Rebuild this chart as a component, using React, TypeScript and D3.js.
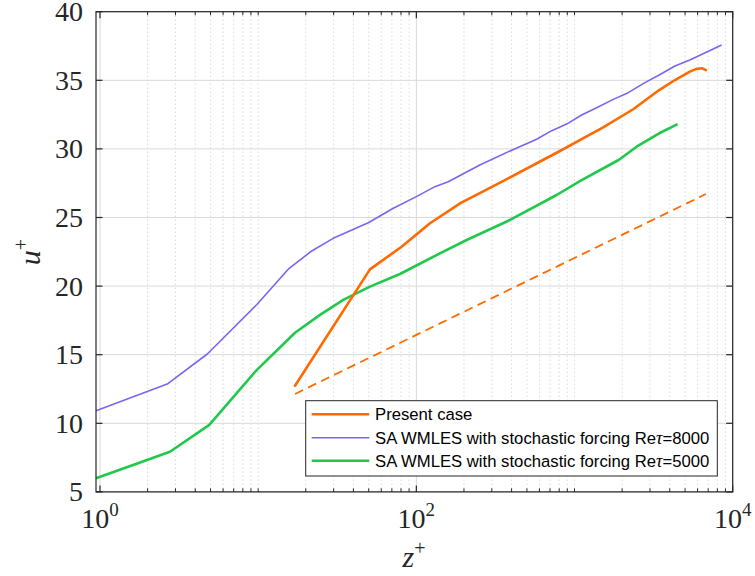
import React from 'react';
import * as d3 from 'd3';

const presentZ = [17.1, 50.9, 80.7, 122, 190, 363, 771, 1031, 1518, 2350, 3430, 4313, 5360, 5900, 6400, 6770];
const presentU = [12.74, 21.22, 22.87, 24.58, 26.05, 27.73, 29.72, 30.52, 31.57, 32.89, 34.29, 35.02, 35.63, 35.83, 35.88, 35.74];

const re8000Z = [0.944, 2.66, 4.77, 9.78, 15.7, 21.8, 29.8, 49.7, 71.5, 100, 131, 159, 252, 391, 576, 717, 891, 1109, 1380, 1757, 2185, 2786, 3430, 4313, 5360, 8510];
const re8000U = [10.92, 12.86, 15.05, 18.64, 21.3, 22.56, 23.48, 24.62, 25.67, 26.52, 27.25, 27.6, 28.83, 29.85, 30.7, 31.33, 31.81, 32.47, 33.0, 33.61, 34.1, 34.83, 35.39, 36.04, 36.48, 37.57];

const re5000Z = [0.944, 2.77, 4.91, 9.78, 17.1, 24.6, 34.5, 50.9, 78.8, 141, 208, 391, 771, 1109, 1900, 2470, 3430, 4485];
const re5000U = [5.99, 7.93, 9.88, 13.88, 16.6, 17.9, 18.99, 19.96, 20.88, 22.39, 23.36, 24.82, 26.64, 27.73, 29.19, 30.16, 31.14, 31.81];

const logLawZ = [17.1, 6770];
const logLawU = [12.14, 26.71];

const yTicks = [5, 10, 15, 20, 25, 30, 35, 40];
const xMajorExp = [0, 2, 4];
const legendLabels = ['Present case', 'SA WMLES with stochastic forcing Re', 'SA WMLES with stochastic forcing Re'];
const legendSuffix = ['', '=8000', '=5000'];

const ORANGE = '#FF6A00';
const PURPLE = '#7866F2';
const GREEN = '#20C84C';

const L = 96, R = 732.7, T = 11.7, B = 491.9;

export default function App() {
  const x = d3.scaleLog().domain([Math.pow(10, -4 / 158.2), 10000]).range([L, R]);
  const y = d3.scaleLinear().domain([5, 40]).range([B, T]);
  const line = d3.line<[number, number]>().x(d => x(d[0])).y(d => y(d[1]));
  const zip = (a: number[], b: number[]) => a.map((v, i) => [v, b[i]] as [number, number]);

  const minor: number[] = [];
  for (let e = 0; e < 4; e++) {
    for (let m = 1; m <= 9; m++) {
      const v = m * Math.pow(10, e);
      if (xMajorExp.includes(e) && m === 1) continue;
      minor.push(v);
    }
  }
  const serif = '"Liberation Serif", "DejaVu Serif", serif';
  const sans = '"Liberation Sans", Arial, sans-serif';
  const axisColor = '#262626';

  return (
    <svg width={755} height={576} style={{ position: 'absolute', left: 0, top: 0, background: '#fff' }}>
      <rect x={0} y={0} width={755} height={576} fill="#fff" />
      {/* minor grid */}
      {minor.map(v => (
        <line key={'mg' + v} x1={x(v)} x2={x(v)} y1={T} y2={B} stroke="#c4c4c4" strokeWidth={0.9} strokeDasharray="1,3" />
      ))}
      {/* major grid */}
      {xMajorExp.map(e => (
        <line key={'xg' + e} x1={x(Math.pow(10, e))} x2={x(Math.pow(10, e))} y1={T} y2={B} stroke="#d9d9d9" strokeWidth={1} />
      ))}
      {yTicks.map(t => (
        <line key={'yg' + t} x1={L} x2={R} y1={y(t)} y2={y(t)} stroke="#d9d9d9" strokeWidth={1} />
      ))}
      {/* data */}
      <path d={line(zip(logLawZ, logLawU)) || ''} fill="none" stroke={ORANGE} strokeWidth={1.8} strokeDasharray="9,5.5" />
      <path d={line(zip(re5000Z, re5000U)) || ''} fill="none" stroke={GREEN} strokeWidth={2.6} strokeLinejoin="round" />
      <path d={line(zip(re8000Z, re8000U)) || ''} fill="none" stroke={PURPLE} strokeWidth={1.6} strokeLinejoin="round" />
      <path d={line(zip(presentZ, presentU)) || ''} fill="none" stroke={ORANGE} strokeWidth={2.6} strokeLinejoin="round" strokeLinecap="round" />
      {/* axes box */}
      <rect x={L} y={T} width={R - L} height={B - T} fill="none" stroke={axisColor} strokeWidth={1.2} />
      {/* y ticks */}
      {yTicks.map(t => (
        <g key={'yt' + t}>
          <line x1={L} x2={L + 6.5} y1={y(t)} y2={y(t)} stroke={axisColor} strokeWidth={1.2} />
          <line x1={R} x2={R - 6.5} y1={y(t)} y2={y(t)} stroke={axisColor} strokeWidth={1.2} />
          <text x={83} y={y(t) + 9.5} textAnchor="end" fontFamily={serif} fontSize={28} fill="#262626">{t}</text>
        </g>
      ))}
      {/* x ticks */}
      {minor.map(v => (
        <g key={'xm' + v}>
          <line x1={x(v)} x2={x(v)} y1={B} y2={B - 3.5} stroke={axisColor} strokeWidth={1} />
          <line x1={x(v)} x2={x(v)} y1={T} y2={T + 3.5} stroke={axisColor} strokeWidth={1} />
        </g>
      ))}
      {xMajorExp.map(e => (
        <g key={'xt' + e}>
          <line x1={x(Math.pow(10, e))} x2={x(Math.pow(10, e))} y1={B} y2={B - 6.5} stroke={axisColor} strokeWidth={1.2} />
          <line x1={x(Math.pow(10, e))} x2={x(Math.pow(10, e))} y1={T} y2={T + 6.5} stroke={axisColor} strokeWidth={1.2} />
          <text x={x(Math.pow(10, e))} y={528} textAnchor="middle" fontFamily={serif} fontSize={28} fill="#262626">
            10<tspan dy={-12} fontSize={19}>{e}</tspan>
          </text>
        </g>
      ))}
      {/* axis labels */}
      <text x={414} y={567} textAnchor="middle" fontFamily={serif} fontSize={30} fill="#262626">
        <tspan fontStyle="italic">z</tspan><tspan dy={-12} fontSize={20}>+</tspan>
      </text>
      <text transform="translate(40,252) rotate(-90)" textAnchor="middle" fontFamily={serif} fontSize={30} fill="#262626">
        <tspan fontStyle="italic">u</tspan><tspan dy={-12} fontSize={20}>+</tspan>
      </text>
      {/* legend */}
      <rect x={305.7} y={400.7} width={411.6} height={75.3} fill="#fff" stroke="#262626" strokeWidth={1} />
      {legendLabels.map((lab, i) => {
        const ly = [414.3, 437.7, 460.7][i];
        const col = [ORANGE, PURPLE, GREEN][i];
        const w = [2.6, 1.6, 2.6][i];
        return (
          <g key={'lg' + i}>
            <line x1={311.7} x2={369.3} y1={ly} y2={ly} stroke={col} strokeWidth={w} />
            <text x={375} y={ly + 6} fontFamily={sans} fontSize={16.7} fill="#000">
              {lab}
              {i > 0 && <tspan fontFamily={serif} fontStyle="italic" fontSize={18}>τ</tspan>}
              {legendSuffix[i]}
            </text>
          </g>
        );
      })}
    </svg>
  );
}
